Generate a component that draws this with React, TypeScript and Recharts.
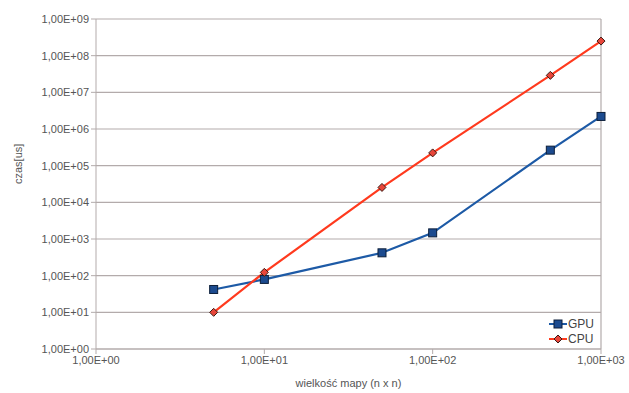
import { CartesianGrid, Line, LineChart, ReferenceLine, XAxis, YAxis } from "recharts";

const SIZES = [5, 10, 50, 100, 500, 1000];
const GPU_US = [42, 79, 420, 1470, 265000, 2200000];
const CPU_US = [10, 123, 25500, 223000, 29000000, 250000000];
const X_TICKS = [1, 10, 100, 1000];
const Y_TICKS = [1, 1e1, 1e2, 1e3, 1e4, 1e5, 1e6, 1e7, 1e8, 1e9];

const GPU_COLOR = "#1d5aa6";
const GPU_FILL = "#1c4b8f";
const CPU_COLOR = "#ff3a1e";
const CPU_FILL = "#e8463a";
const GRID = "#b3abab";
const TEXT = "#555";

const rows = SIZES.map((n, i) => ({ n, gpu: GPU_US[i], cpu: CPU_US[i] }));

// "1,00E+03" style, like the spreadsheet export
function sci(v: number): string {
  const e = Math.round(Math.log10(v));
  return `1,00E+${String(e).padStart(2, "0")}`;
}

function Square(props: { cx?: number; cy?: number }) {
  const { cx = 0, cy = 0 } = props;
  return <rect x={cx - 4} y={cy - 4} width={8} height={8} fill={GPU_FILL} stroke="#0d1f3a" strokeWidth={1} />;
}

function Diamond(props: { cx?: number; cy?: number }) {
  const { cx = 0, cy = 0 } = props;
  return (
    <polygon
      points={`${cx},${cy - 4} ${cx + 4},${cy} ${cx},${cy + 4} ${cx - 4},${cy}`}
      fill={CPU_FILL}
      stroke="#3a1a14"
      strokeWidth={1}
    />
  );
}

function LegendBox() {
  const item = (label: string, color: string, marker: JSX.Element) => (
    <div style={{ display: "flex", alignItems: "center", height: 15 }}>
      <svg width={18} height={12}>
        <line x1={0} y1={6} x2={18} y2={6} stroke={color} strokeWidth={2} />
        {marker}
      </svg>
      <span style={{ marginLeft: 1 }}>{label}</span>
    </div>
  );
  return (
    <div
      style={{
        position: "absolute",
        left: 549,
        top: 316,
        fontFamily: "Liberation Sans, Arial, sans-serif",
        fontSize: 12,
        color: "#444",
      }}
    >
      {item("GPU", GPU_COLOR, <Square cx={9} cy={6} />)}
      {item("CPU", CPU_COLOR, <Diamond cx={9} cy={6} />)}
    </div>
  );
}

export default function App() {
  return (
    <div style={{ position: "absolute", left: 0, top: 0, width: 629, height: 393, background: "#fff" }}>
      <LineChart
        width={629}
        height={393}
        data={rows}
        margin={{ top: 19, right: 28, left: 20, bottom: 24 }}
        style={{ fontFamily: "Liberation Sans, Arial, sans-serif" }}
      >
        <CartesianGrid vertical={false} stroke={GRID} strokeWidth={1.2} />
        <ReferenceLine x={1000} stroke={GRID} strokeWidth={1.2} />
        <XAxis
          dataKey="n"
          type="number"
          scale="log"
          domain={[1, 1000]}
          ticks={X_TICKS}
          tickFormatter={sci}
          stroke={GRID}
          tick={{ fill: TEXT, fontSize: 11 }}
          tickSize={5}
          height={20}
          label={{ value: "wielkość mapy (n x n)", position: "insideBottom", offset: -18, fill: TEXT, fontSize: 11 }}
        />
        <YAxis
          type="number"
          scale="log"
          domain={[1, 1e9]}
          ticks={Y_TICKS}
          tickFormatter={sci}
          stroke={GRID}
          tick={{ fill: TEXT, fontSize: 11 }}
          tickSize={5}
          width={76}
          allowDataOverflow
          label={{ value: "czas[us]", angle: -90, position: "insideLeft", offset: -2, fill: TEXT, fontSize: 11 }}
        />
        <Line
          dataKey="gpu"
          name="GPU"
          type="linear"
          stroke={GPU_COLOR}
          strokeWidth={2.2}
          dot={<Square />}
          activeDot={false}
          isAnimationActive={false}
        />
        <Line
          dataKey="cpu"
          name="CPU"
          type="linear"
          stroke={CPU_COLOR}
          strokeWidth={2.2}
          dot={<Diamond />}
          activeDot={false}
          isAnimationActive={false}
        />
      </LineChart>
      <LegendBox />
    </div>
  );
}
